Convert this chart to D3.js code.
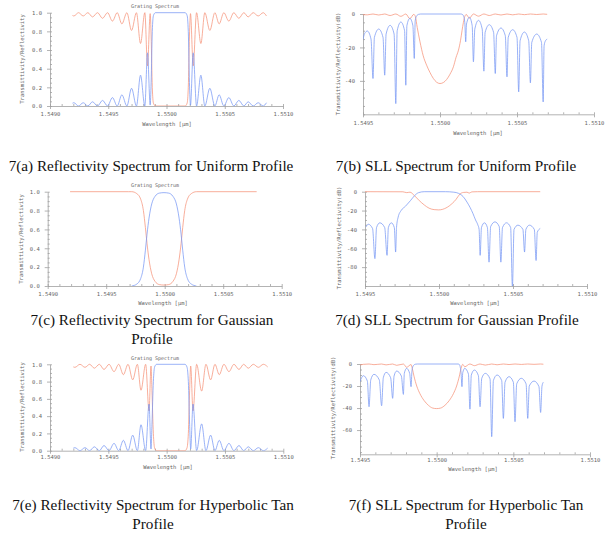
<!DOCTYPE html>
<html>
<head>
<meta charset="utf-8">
<script src="https://cdn.jsdelivr.net/npm/d3@7"></script>
<style>
  body { margin: 0; background: #fff; }
  svg { display: block; }
</style>
</head>
<body>
<svg id="fig" width="605" height="533"></svg>
<script>
// --- tick labels ---
const linTicks = [0, 0.2, 0.4, 0.6, 0.8, 1.0];
const dbTicksB = [0, -20, -40];
const dbTicksD = [0, -20, -40, -60, -80];
const dbTicksF = [0, -20, -40, -60];
const wideTicks = [1.549, 1.5495, 1.55, 1.5505, 1.551];
const narrowTicks = [1.5495, 1.55, 1.5505, 1.551];

const captions = [
  ["7(a) Reflectivity Spectrum for Uniform Profile"],
  ["7(b) SLL Spectrum for Uniform Profile"],
  ["7(c) Reflectivity Spectrum for Gaussian", "Profile"],
  ["7(d) SLL Spectrum for Gaussian Profile"],
  ["7(e) Reflectivity Spectrum for Hyperbolic Tan", "Profile"],
  ["7(f) SLL Spectrum for Hyperbolic Tan", "Profile"]
];

// --- series: [wavelength (um), value] ---
const uniformRefl = [[1.549193,0.03],[1.549205,0.035],[1.549245,0],[1.549285,0.035],[1.549325,0],[1.549365,0.045],[1.549408,0],[1.549451,0.06],[1.549494,0],[1.549536,0.09],[1.549577,0],[1.549617,0.12],[1.549660,0],[1.549700,0.19],[1.549742,0],[1.549777,0.33],[1.549814,0],[1.549837,0.57],[1.549860,0.01],[1.549868,0.25],[1.549878,0.8],[1.549888,0.97],[1.549905,1.0],[1.550160,1.0],[1.550177,0.97],[1.550187,0.8],[1.550197,0.25],[1.550206,0.01],[1.550229,0.57],[1.550258,0],[1.550295,0.33],[1.550329,0],[1.550372,0.19],[1.550415,0],[1.550452,0.12],[1.550492,0],[1.550535,0.09],[1.550578,0],[1.550621,0.06],[1.550664,0],[1.550701,0.045],[1.550744,0],[1.550787,0.035],[1.550830,0],[1.550858,0.035]];
const uniformTrans = [[1.549193,0.97],[1.549205,0.965],[1.549245,1],[1.549285,0.965],[1.549325,1],[1.549365,0.955],[1.549408,1],[1.549451,0.94],[1.549494,1],[1.549536,0.91],[1.549577,1],[1.549617,0.88],[1.549660,1],[1.549700,0.81],[1.549742,1],[1.549777,0.67],[1.549814,1],[1.549837,0.43],[1.549860,0.99],[1.549868,0.75],[1.549878,0.2],[1.549888,0.03],[1.549905,0],[1.550160,0],[1.550177,0.03],[1.550187,0.2],[1.550197,0.75],[1.550206,0.99],[1.550229,0.43],[1.550258,1],[1.550295,0.67],[1.550329,1],[1.550372,0.81],[1.550415,1],[1.550452,0.88],[1.550492,1],[1.550535,0.91],[1.550578,1],[1.550621,0.94],[1.550664,1],[1.550701,0.955],[1.550744,1],[1.550787,0.965],[1.550830,1],[1.550858,0.965]];

const uniformReflDb = [[1.549500,-15.2],[1.549511,-11.6],[1.549528,-10.2],[1.549552,-15],[1.549565,-38.6],[1.549574,-14],[1.549602,-9],[1.549630,-14],[1.549641,-36.6],[1.549650,-12],[1.549676,-6.8],[1.549702,-12],[1.549713,-53.6],[1.549722,-10],[1.549746,-4.8],[1.549770,-10],[1.549778,-42.6],[1.549785,-7],[1.549804,-2.6],[1.549824,-7],[1.549833,-26.6],[1.549839,-4],[1.549848,-1.2],[1.549861,-0.2],[1.549874,0],[1.550135,0],[1.550146,-0.3],[1.550154,-1.5],[1.550161,-5],[1.550167,-16.6],[1.550172,-6],[1.550191,-2],[1.550209,-7],[1.550217,-28.6],[1.550226,-9],[1.550250,-3.8],[1.550274,-9],[1.550285,-34.2],[1.550293,-11],[1.550320,-6.4],[1.550348,-11],[1.550359,-35.6],[1.550367,-13],[1.550396,-8.4],[1.550424,-13],[1.550435,-37.6],[1.550443,-14],[1.550472,-9.4],[1.550500,-14],[1.550511,-46.6],[1.550520,-16],[1.550548,-10.8],[1.550576,-16],[1.550587,-41.2],[1.550596,-17],[1.550628,-12],[1.550659,-17],[1.550670,-52.6],[1.550676,-19],[1.550685,-16],[1.550696,-15]];
const uniformTransDb = [[1.549500,-0.4],[1.549528,-0.5],[1.549565,0],[1.549602,-0.6],[1.549641,0],[1.549676,-0.9],[1.549713,0],[1.549746,-1.4],[1.549778,0],[1.549804,-2.8],[1.549830,-0.2],[1.549840,-1.5],[1.549852,-8],[1.549870,-16.6],[1.549891,-25],[1.549913,-30.6],[1.549935,-35],[1.549957,-38.6],[1.549978,-40.8],[1.550000,-41.6],[1.550022,-41],[1.550043,-39.2],[1.550065,-36],[1.550087,-31.6],[1.550104,-26],[1.550120,-21.6],[1.550133,-16],[1.550143,-10],[1.550152,-5],[1.550161,-1.5],[1.550170,-0.3],[1.550191,-2.5],[1.550217,0],[1.550250,-1.3],[1.550285,0],[1.550320,-0.9],[1.550359,0],[1.550396,-0.6],[1.550435,0],[1.550472,-0.5],[1.550511,0],[1.550548,-0.4],[1.550587,0],[1.550628,-0.3],[1.550670,0],[1.550696,-0.2]];

const gaussRefl = [[1.549718,0],[1.549761,0.02],[1.549795,0.08],[1.549818,0.2],[1.549835,0.38],[1.549849,0.55],[1.549866,0.72],[1.549889,0.87],[1.549917,0.95],[1.549954,0.985],[1.549994,0.99],[1.550034,0.985],[1.550071,0.95],[1.550100,0.87],[1.550123,0.72],[1.550140,0.55],[1.550154,0.38],[1.550171,0.2],[1.550194,0.08],[1.550228,0.02],[1.550271,0]];
const gaussTrans = [[1.549191,1],[1.549689,1],[1.549718,1],[1.549761,0.98],[1.549795,0.92],[1.549818,0.8],[1.549835,0.62],[1.549849,0.45],[1.549866,0.28],[1.549889,0.13],[1.549917,0.05],[1.549954,0.015],[1.549994,0.01],[1.550034,0.015],[1.550071,0.05],[1.550100,0.13],[1.550123,0.28],[1.550140,0.45],[1.550154,0.62],[1.550171,0.8],[1.550194,0.92],[1.550228,0.98],[1.550271,1],[1.550786,1]];

const gaussReflDb = [[1.549507,-37.3],[1.549522,-34.5],[1.549551,-39],[1.549567,-71],[1.549578,-38],[1.549600,-33],[1.549633,-38],[1.549649,-67.5],[1.549658,-38],[1.549678,-33],[1.549698,-38],[1.549707,-64],[1.549713,-38],[1.549724,-27],[1.549744,-20],[1.549773,-15.5],[1.549807,-9.5],[1.549836,-4],[1.549862,-1],[1.549900,0],[1.550044,0],[1.550100,-0.5],[1.550133,-1.8],[1.550162,-5],[1.550189,-11],[1.550211,-17],[1.550229,-23],[1.550247,-30],[1.550262,-35],[1.550271,-40],[1.550278,-67.5],[1.550287,-38],[1.550307,-33],[1.550327,-38],[1.550338,-74.7],[1.550349,-37],[1.550378,-32],[1.550407,-37],[1.550418,-74.7],[1.550429,-38],[1.550456,-33],[1.550484,-38],[1.550496,-101],[1.550507,-40],[1.550533,-35.5],[1.550567,-40],[1.550578,-64],[1.550587,-40],[1.550611,-35.5],[1.550644,-40],[1.550656,-73],[1.550664,-43],[1.550684,-39]];
const gaussTransDb = [[1.549500,0],[1.549756,-0.1],[1.549782,-1],[1.549804,-0.5],[1.549833,-4],[1.549867,-9.5],[1.549900,-14],[1.549933,-17.5],[1.549967,-19],[1.549996,-19.3],[1.550022,-18.8],[1.550056,-16.5],[1.550089,-12.5],[1.550116,-8],[1.550129,-5],[1.550142,-2.5],[1.550164,-0.8],[1.550189,-0.5],[1.550204,-1.5],[1.550222,-0.2],[1.550260,0],[1.550684,0]];

const tanhRefl = [[1.549200,0.03],[1.549214,0.035],[1.549257,0],[1.549300,0.035],[1.549340,0],[1.549380,0.045],[1.549423,0],[1.549463,0.06],[1.549506,0],[1.549549,0.085],[1.549589,0],[1.549629,0.12],[1.549669,0],[1.549709,0.18],[1.549749,0],[1.549780,0.3],[1.549820,0],[1.549849,0.54],[1.549866,0.02],[1.549874,0.3],[1.549886,0.8],[1.549897,0.97],[1.549914,1.0],[1.550157,1.0],[1.550174,0.97],[1.550186,0.8],[1.550197,0.3],[1.550206,0.02],[1.550226,0.54],[1.550257,0],[1.550300,0.31],[1.550337,0],[1.550377,0.18],[1.550414,0],[1.550451,0.12],[1.550491,0],[1.550534,0.085],[1.550577,0],[1.550620,0.06],[1.550660,0],[1.550700,0.045],[1.550743,0],[1.550786,0.035],[1.550829,0],[1.550866,0.03]];
const tanhTrans = [[1.549200,0.97],[1.549214,0.965],[1.549257,1],[1.549300,0.965],[1.549340,1],[1.549380,0.955],[1.549423,1],[1.549463,0.94],[1.549506,1],[1.549549,0.915],[1.549589,1],[1.549629,0.88],[1.549669,1],[1.549709,0.82],[1.549749,1],[1.549780,0.7],[1.549820,1],[1.549849,0.46],[1.549866,0.98],[1.549874,0.7],[1.549886,0.2],[1.549897,0.03],[1.549914,0],[1.550157,0],[1.550174,0.03],[1.550186,0.2],[1.550197,0.7],[1.550206,0.98],[1.550226,0.46],[1.550257,1],[1.550300,0.69],[1.550337,1],[1.550377,0.82],[1.550414,1],[1.550451,0.88],[1.550491,1],[1.550534,0.915],[1.550577,1],[1.550620,0.94],[1.550660,1],[1.550700,0.955],[1.550743,1],[1.550786,0.965],[1.550829,1],[1.550866,0.97]];

const tanhReflDb = [[1.549500,-16],[1.549522,-10.6],[1.549548,-15.5],[1.549559,-38.8],[1.549570,-14.5],[1.549591,-9.4],[1.549626,-14.5],[1.549641,-37.9],[1.549652,-12.5],[1.549670,-7.6],[1.549700,-12.5],[1.549713,-31.2],[1.549722,-11],[1.549739,-6.4],[1.549770,-11],[1.549783,-27.6],[1.549789,-8.5],[1.549804,-4],[1.549824,-8.5],[1.549833,-20.6],[1.549839,-6],[1.549848,-1.5],[1.549861,-0.2],[1.549874,0],[1.550139,0],[1.550148,-0.5],[1.550154,-3],[1.550159,-8],[1.550165,-20.6],[1.550170,-8],[1.550183,-4],[1.550207,-9],[1.550217,-41],[1.550226,-10],[1.550246,-5.5],[1.550272,-10.5],[1.550283,-38.8],[1.550294,-13],[1.550317,-8.5],[1.550348,-13.5],[1.550359,-66],[1.550370,-15],[1.550394,-10],[1.550424,-15],[1.550435,-49.4],[1.550446,-16.5],[1.550472,-11.5],[1.550500,-16.5],[1.550511,-52.4],[1.550522,-18],[1.550552,-13],[1.550583,-18],[1.550594,-49.4],[1.550604,-20],[1.550635,-15.5],[1.550667,-20.5],[1.550678,-44],[1.550687,-20],[1.550696,-16.5]];
const tanhTransDb = [[1.549500,-0.9],[1.549522,-0.3],[1.549559,0],[1.549591,-0.6],[1.549641,0],[1.549670,-0.8],[1.549713,0],[1.549739,-1.2],[1.549783,0],[1.549804,-3],[1.549833,-0.5],[1.549841,-4],[1.549852,-11],[1.549870,-20],[1.549891,-27],[1.549917,-33],[1.549946,-37.5],[1.549974,-40],[1.550000,-40.5],[1.550026,-40],[1.550054,-37.5],[1.550083,-33],[1.550109,-27],[1.550130,-20],[1.550148,-11],[1.550159,-4],[1.550170,-0.3],[1.550183,-2.5],[1.550217,0],[1.550246,-1.5],[1.550283,0],[1.550317,-1],[1.550359,0],[1.550394,-0.7],[1.550435,0],[1.550472,-0.5],[1.550511,0],[1.550552,-0.4],[1.550594,0],[1.550635,-0.3],[1.550678,0],[1.550696,-0.2]];

// --- look ---
const RED = '#f5937a', BLUE = '#7898f4', AXIS = '#a0a0a0', LABEL = '#666';
const MONO = '"DejaVu Sans Mono", monospace';

// panel layout in page pixels
const panels = [
  { series: [uniformTrans, uniformRefl], xDom: [1.549, 1.551], xTicks: wideTicks, yDom: [0, 1], yTicks: linTicks, yFmt: d3.format('.1f'), yMinor: 20,
    left: 50, right: 283, top: 12.7, bottom: 106, lblOff: 7, title: [155, 8], yLab: [22, 59], xLab: [167, 124], ylabel: 'Transmittivity/Reflectivity',
    cap: [151, 171] },
  { series: [uniformTransDb, uniformReflDb], xDom: [1.5495, 1.551], xTicks: narrowTicks, yDom: [-60, 0], yTicks: dbTicksB, yFmt: String, yMinor: 12,
    left: 363, right: 594, top: 14, bottom: 114.3, lblOff: 8, yLab: [338, 64], xLab: [478, 133], ylabel: 'Transmittivity/Reflectivity(dB)',
    cap: [456, 171] },
  { series: [gaussTrans, gaussRefl], xDom: [1.549, 1.551], xTicks: wideTicks, yDom: [0, 1], yTicks: linTicks, yFmt: d3.format('.1f'), yMinor: 20,
    left: 47.7, right: 281.7, top: 191.7, bottom: 286, lblOff: 7, title: [155, 187], yLab: [21.7, 239], xLab: [163, 303], ylabel: 'Transmittivity/Reflectivity',
    cap: [152, 325] },
  { series: [gaussTransDb, gaussReflDb], xDom: [1.5495, 1.551], xTicks: narrowTicks, yDom: [-100, 0], yTicks: dbTicksD, yFmt: String, yMinor: 20,
    left: 365, right: 587, top: 191.7, bottom: 286, lblOff: 7, yLab: [339.3, 238], xLab: [475, 303], ylabel: 'Transmittivity/Reflectivity(dB)',
    cap: [457, 325] },
  { series: [tanhTrans, tanhRefl], xDom: [1.549, 1.551], xTicks: wideTicks, yDom: [0, 1], yTicks: linTicks, yFmt: d3.format('.1f'), yMinor: 20,
    left: 50, right: 283.3, top: 364.3, bottom: 450.7, lblOff: 5, title: [155, 360], yLab: [22.7, 407], xLab: [168, 467], ylabel: 'Transmittivity/Reflectivity',
    cap: [153, 510] },
  { series: [tanhTransDb, tanhReflDb], xDom: [1.5495, 1.551], xTicks: narrowTicks, yDom: [-82, 0], yTicks: dbTicksF, yFmt: String, yMinor: 16,
    left: 360, right: 590, top: 364, bottom: 454.3, lblOff: 5, yLab: [333.3, 408], xLab: [473, 469], ylabel: 'Transmittivity/Reflectivity(dB)',
    cap: [466, 510] }
];

const svg = d3.select('#fig');
const defs = svg.append('defs');

function styleAxis(sel) {
  sel.selectAll('.domain, .tick line').attr('stroke', AXIS).attr('stroke-width', 0.8);
  sel.selectAll('.tick text').attr('fill', LABEL).style('font-family', MONO).style('font-size', '5.5px');
}

panels.forEach((p, i) => {
  const g = svg.append('g').attr('class', 'panel');
  const x = d3.scaleLinear().domain(p.xDom).range([p.left, p.right]);
  const y = d3.scaleLinear().domain(p.yDom).range([p.bottom, p.top]);

  defs.append('clipPath').attr('id', 'clip' + i)
    .append('rect').attr('x', p.left).attr('y', p.top - 2)
    .attr('width', p.right - p.left).attr('height', p.bottom - p.top + 2);

  // minor ticks, pointing inwards
  g.append('g').attr('transform', `translate(0,${p.bottom})`)
    .call(d3.axisBottom(x).tickValues(x.ticks(20)).tickSize(-2).tickSizeOuter(0).tickFormat(''))
    .call(s => s.select('.domain').remove()).call(styleAxis);
  g.append('g').attr('transform', `translate(${p.left},0)`)
    .call(d3.axisLeft(y).tickValues(y.ticks(p.yMinor)).tickSize(-2).tickSizeOuter(0).tickFormat(''))
    .call(s => s.select('.domain').remove()).call(styleAxis);

  // main axes
  g.append('g').attr('transform', `translate(0,${p.bottom})`)
    .call(d3.axisBottom(x).tickValues(p.xTicks).tickSize(3).tickSizeOuter(0).tickPadding(p.lblOff - 4).tickFormat(d3.format('.4f')))
    .call(styleAxis);
  g.append('g').attr('transform', `translate(${p.left},0)`)
    .call(d3.axisLeft(y).tickValues(p.yTicks).tickSize(3).tickSizeOuter(0).tickPadding(5).tickFormat(p.yFmt))
    .call(styleAxis);

  const line = d3.line().x(d => x(d[0])).y(d => y(d[1])).curve(d3.curveMonotoneX);
  p.series.forEach((s, k) => {
    g.append('path').attr('d', line(s))
      .attr('fill', 'none').attr('stroke', k ? BLUE : RED).attr('stroke-width', 0.75)
      .attr('clip-path', `url(#clip${i})`);
  });

  if (p.title) {
    g.append('text').attr('x', p.title[0]).attr('y', p.title[1]).attr('text-anchor', 'middle')
      .attr('fill', LABEL).style('font-family', MONO).style('font-size', '5px').text('Grating Spectrum');
  }
  g.append('text').attr('transform', `translate(${p.yLab[0]},${p.yLab[1]}) rotate(-90)`)
    .attr('text-anchor', 'middle').attr('dominant-baseline', 'middle')
    .attr('fill', LABEL).style('font-family', MONO).style('font-size', '5.5px').text(p.ylabel);
  g.append('text').attr('x', p.xLab[0]).attr('y', p.xLab[1]).attr('text-anchor', 'middle')
    .attr('dominant-baseline', 'middle')
    .attr('fill', LABEL).style('font-family', MONO).style('font-size', '5.5px').text('Wavelength [\u00b5m]');

  // figure caption
  const cap = svg.append('text').attr('text-anchor', 'middle')
    .style('font-family', '"Liberation Serif", "Times New Roman", serif').style('font-size', '15.2px').attr('fill', '#111');
  captions[i].forEach((t, j) => {
    cap.append('tspan').attr('x', p.cap[0]).attr('y', p.cap[1] + j * 19).text(t);
  });
});
</script>
</body>
</html>
